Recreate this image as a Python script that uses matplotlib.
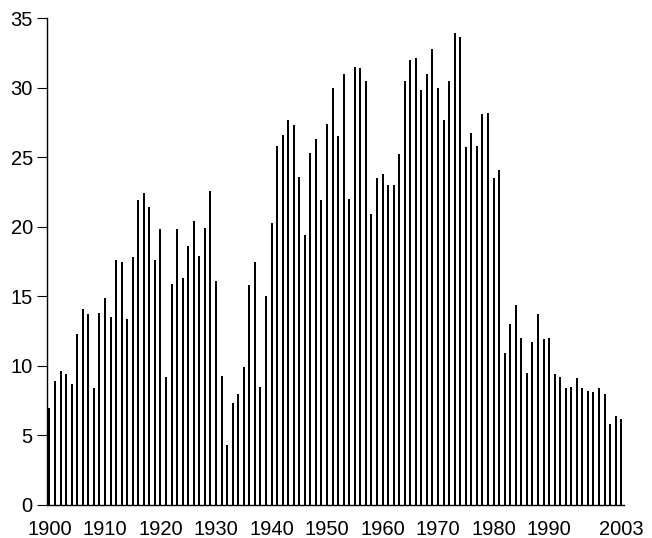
import matplotlib
matplotlib.use('Agg')
import matplotlib.pyplot as plt
import numpy as np

plt.rcParams['font.family'] = ['Liberation Sans', 'DejaVu Sans']

years = list(range(1900, 2004))
values = [
    7.0, 8.9, 9.6, 9.4, 8.7, 12.3, 14.1, 13.7, 8.4, 13.8,      # 1900s
    14.9, 13.5, 17.6, 17.5, 13.4, 17.8, 21.9, 22.4, 21.4, 17.6,  # 1910s
    19.8, 9.2, 15.9, 19.8, 16.3, 18.6, 20.4, 17.9, 19.9, 22.6,   # 1920s
    16.1, 9.3, 4.3, 7.3, 8.0, 9.9, 15.8, 17.5, 8.5, 15.0,        # 1930s
    20.3, 25.8, 26.6, 27.7, 27.3, 23.6, 19.4, 25.3, 26.3, 21.9,  # 1940s
    27.4, 30.0, 26.5, 31.0, 22.0, 31.5, 31.4, 30.5, 20.9, 23.5,  # 1950s
    23.8, 23.0, 23.0, 25.2, 30.5, 32.0, 32.1, 29.8, 31.0, 32.8,  # 1960s
    30.0, 27.7, 30.5, 33.9, 33.6, 25.7, 26.7, 25.8, 28.1, 28.2,  # 1970s
    23.5, 24.1, 10.9, 13.0, 14.4, 12.0, 9.5, 11.7, 13.7, 11.9,   # 1980s
    12.0, 9.4, 9.2, 8.4, 8.5, 9.1, 8.4, 8.2, 8.1, 8.4,           # 1990s
    8.0, 5.8, 6.4, 6.2,                                          # 2000s
]
xtick_years = [1900, 1910, 1920, 1930, 1940, 1950, 1960, 1970, 1980, 1990, 2003]
ytick_vals = [0, 5, 10, 15, 20, 25, 30, 35]

fig = plt.figure(figsize=(6.52, 5.38), dpi=100)
ax = fig.add_axes([46.7 / 652, 1 - 505 / 538, (624 - 46.7) / 652, 487 / 538])

ax.bar(years, values, width=0.36, color='black', linewidth=0, align='center')

ax.set_xlim(1899.5, 2003.5)
ax.set_ylim(0, 35)
ax.set_xticks(xtick_years)
ax.set_xticklabels([str(y) for y in xtick_years])
ax.set_yticks(ytick_vals)

for s in ['top', 'right']:
    ax.spines[s].set_visible(False)
for s in ['left', 'bottom']:
    ax.spines[s].set_linewidth(1.0)

ax.tick_params(axis='y', length=7.5, width=0.8, pad=2.5, labelsize=14.5, direction='out')
ax.tick_params(axis='x', length=0, pad=11, labelsize=14.5)

fig.savefig('out.png', dpi=100)
